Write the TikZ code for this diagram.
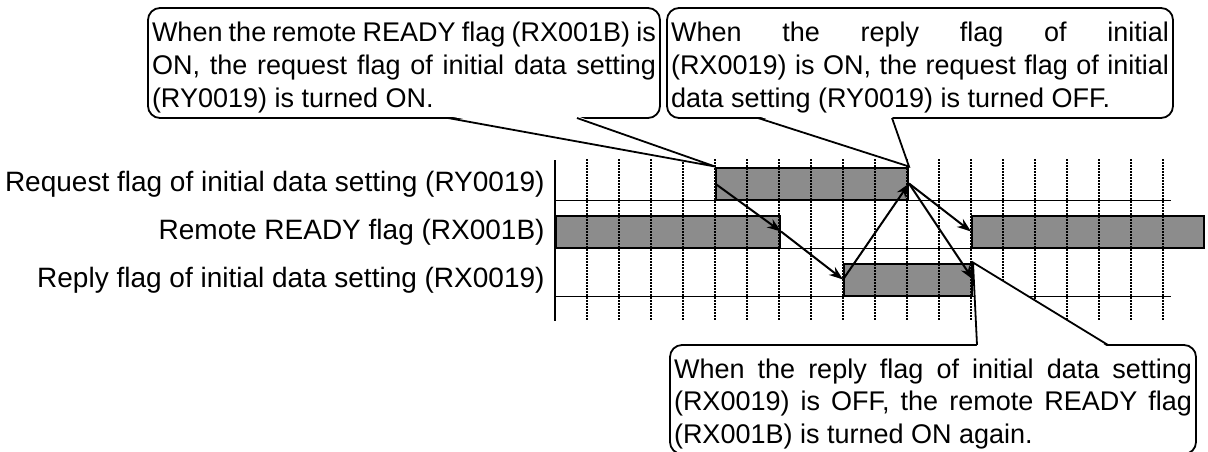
\documentclass[tikz,border=0pt]{standalone}
\usepackage{fontspec}
\setmainfont{Liberation Sans}
\usetikzlibrary{arrows.meta}
\hyphenpenalty=10000
\exhyphenpenalty=10000

\begin{document}
\begin{tikzpicture}[x=0.5pt, y=-0.5pt,
  bar/.style={draw=black, line width=1pt, fill=black!45, inner sep=0pt, minimum height=16pt, anchor=south west},
  flow/.style={line width=1pt, -{Stealth[length=7pt, width=5pt]}},
  note/.style={draw, line width=0.9pt, rounded corners=6pt, fill=white, inner xsep=2pt, inner ysep=0pt, align=justify, font=\fontsize{13.5pt}{16.3pt}\selectfont},
  rowlabel/.style={anchor=east, inner sep=0pt, font=\fontsize{14pt}{16pt}\selectfont}]
\useasboundingbox (0,0) rectangle (1208,451);

% --- Signal bars ---
\node[bar, minimum width=96pt] (req) at (715,200.5) {};
\node[bar, minimum width=112pt] (rdyA) at (555,248.5) {};
\node[bar, minimum width=116pt] (rdyB) at (971,248.5) {};
\node[bar, minimum width=64pt] (rep) at (843,296.5) {};

% --- Time grid ---
\foreach \k in {1,...,19}
  \draw[line width=0.75pt, dash pattern=on 0.75pt off 0.75pt] ({555+32*\k},159) -- ({555+32*\k},320);

% --- Base lines and axis ---
\draw[line width=0.8pt] (555,200.5) -- (1171,200.5);
\draw[line width=0.8pt] (rdyA.south east) -- (rdyB.south west);
\draw[line width=0.8pt] (555,296.5) -- (1171,296.5);
\draw[line width=1pt] (555,160) -- (555,321);

% --- Row labels ---
\node[rowlabel] (lab-req) at (545,184.5) {Request flag of initial data setting (RY0019)};
\node[rowlabel] (lab-rdy) at (545,232.5) {Remote READY flag (RX001B)};
\node[rowlabel] (lab-rep) at (545,280.5) {Reply flag of initial data setting (RX0019)};

% --- Handshake arrows ---
\draw[flow] (req.west) -- (rdyA.east);
\draw[flow] (rdyA.east) -- (rep.west);
\draw[flow] (rep.west) -- (req.east);
\draw[flow] (req.east) -- (rdyB.west);
\draw[flow] (req.east) -- (rep.east);

% --- Callouts ---
\node[note, text width=252pt, minimum height=55pt] (cl1) at (404,63)
  {\rule{0pt}{14.2pt}When the remote READY flag (RX001B) is\linebreak ON, the request flag of initial data setting\linebreak (RY0019) is turned ON.};
\fill[white] (448,116) -- (req.north west) -- (577,116) -- cycle;
\draw[line width=0.9pt] (448,118) -- (req.north west) -- (577,118);

\node[note, text width=249pt, minimum height=55pt] (cl2) at (920,63)
  {\rule{0pt}{14.2pt}When the reply flag of initial\linebreak (RX0019) is ON, the request flag of initial\linebreak data setting (RY0019) is turned OFF.};
\fill[white] (758,116) -- (req.north east) -- (892,116) -- cycle;
\draw[line width=0.9pt] (758,118) -- (req.north east) -- (892,118);

\node[note, text width=259pt, minimum height=54.5pt] (cl3) at (933,399.5)
  {\rule{0pt}{14.2pt}When the reply flag of initial data setting\linebreak (RX0019) is OFF, the remote READY flag\linebreak (RX001B) is turned ON again.};
\fill[white] (977,347) -- (rep.north east) -- (1108,347) -- cycle;
\draw[line width=0.9pt] (977,345) -- (rep.north east) -- (1108,345);
\end{tikzpicture}
\end{document}
